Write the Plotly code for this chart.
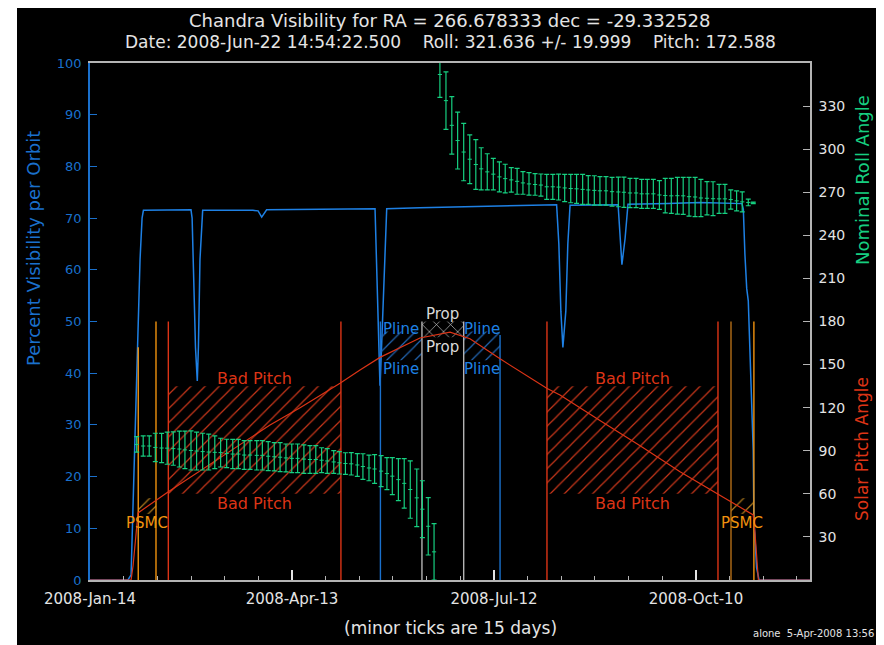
import plotly.graph_objects as go
import pandas as pd

# ---------------- data ----------------
START = "2008-01-14"
END_DAY = 320.8

# percent visibility per orbit (left axis); x = days since 2008-01-14
vis_day = [0, 16.9, 18.3, 19.2, 20.5, 21.4, 22.3, 23.2, 23.8, 45.0, 45.5, 46.1, 47.0, 47.8,
           48.3, 49.0, 49.8, 50.2, 72.6, 74.9, 76.5, 78.0, 78.7, 127.0, 128.5, 129.2, 129.9,
           130.7, 132.2, 147.0, 169.3, 207.9, 208.9, 209.8, 210.7, 212.0, 212.9, 213.9, 235.3,
           235.9, 237.0, 238.4, 239.7, 257.5, 271.7, 290.5, 291.1, 291.8, 292.6, 293.3, 294.1,
           294.8, 295.5, 295.8, 296.4, 297.0, 298.1, 320.8]
vis_pct = [0, 0, 1, 15, 35, 50, 62, 70, 71.5, 71.6, 70, 60, 45, 38.5,
           45, 62, 69, 71.5, 71.5, 71.4, 70.2, 71.3, 71.6, 71.8, 49.9, 37.6, 45,
           55, 71.8, 72.0, 72.2, 72.6, 65, 52, 45, 52, 65, 72.5, 72.6,
           68, 61, 66, 72.7, 72.8, 73.0, 72.8, 71.7, 63, 56.4, 54, 41.9,
           32.8, 25, 12, 8, 2.4, 0, 0]

# solar pitch angle (right axis, degrees)
pitch_day = [0, 18.3, 19.2, 20.3, 21.4, 34.9, 57.9, 80.2, 93.6, 111.4, 120.3, 129.2, 147.0,
             160.4, 169.3, 182.7, 203.5, 209.4, 227.2, 245.1, 262.9, 280.7, 295.5, 296.3,
             297.8, 320.8]
pitch_deg = [0, 0, 10, 30, 46.7, 61.5, 85, 108, 120, 137, 146.2, 155, 168.5,
             172.6, 168, 154, 133.5, 128.8, 111, 93.5, 75.4, 59.2, 45.3, 32.7,
             0, 0]

# nominal roll angle with +/- range (right axis, degrees)
roll1_day = [20.8, 23.7, 26.4, 29.1, 31.9, 34.4, 37.1, 39.8, 42.3, 45.0, 47.5, 50.2, 52.9,
             55.6, 58.2, 60.9, 63.6, 66.1, 68.7, 71.3, 74.3, 76.8, 79.4, 82.1, 84.7, 87.3,
             89.9, 92.5, 95.3, 98.0, 100.6, 103.2, 105.7, 108.6, 111.1, 113.8, 116.4, 119.1,
             121.6, 124.3, 126.8, 129.7, 132.3, 134.7, 137.4, 140.0, 142.7, 145.6, 148.1,
             150.7, 153.3]
roll1_deg = [94.4, 93.3, 93.3, 92.3, 91.9, 91.8, 91.5, 91.2, 90.6, 90.2, 89.8, 89.4, 89.1,
             88.9, 88.7, 88.1, 87.7, 87.7, 87.0, 87.0, 86.8, 86.8, 86.2, 85.8, 85.5, 85.0,
             84.7, 84.7, 84.2, 83.9, 83.9, 83.4, 82.9, 82.2, 81.6, 81.1, 80.9, 80.1, 79.0,
             78.0, 77.3, 75.8, 74.1, 72.3, 69.9, 67.3, 63.0, 57.2, 49.3, 37.4, 19.6]
roll1_err = [5.4, 7.0, 7.0, 9.9, 10.2, 11.2, 11.6, 12.5, 13.1, 13.6, 13.2, 12.8, 12.5,
             11.4, 10.0, 9.9, 10.2, 10.2, 10.0, 10.0, 10.2, 10.2, 10.1, 9.8, 10.1, 9.7,
             10.0, 10.0, 9.9, 9.6, 9.6, 8.7, 8.6, 7.9, 7.8, 7.5, 7.8, 7.9, 8.9, 8.9,
             10.0, 10.8, 11.1, 12.9, 14.6, 17.2, 20.0, 20.1, 19.8, 20.0, 19.6]

roll2_day = [155.9, 158.6, 161.2, 163.8, 166.5, 169.2, 171.9, 174.3, 177.0, 179.7, 182.4,
             185.0, 187.7, 190.3, 192.9, 195.6, 198.3, 200.9, 203.5, 206.2, 208.8, 211.5,
             214.2, 216.8, 219.5, 222.0, 224.7, 227.2, 229.9, 232.6, 235.4, 237.9, 240.6,
             243.3, 245.8, 248.3, 251.0, 253.7, 256.3, 259.0, 261.7, 264.3, 266.9, 269.6,
             272.2, 274.9, 277.6, 280.3, 282.9, 285.5, 288.1, 290.6, 293.3, 295.5]
roll2_deg = [352, 333.8, 316.6, 306.0, 298.0, 293.0, 289.3, 286.3, 284.2, 282.6, 280.7,
             279.5, 278.6, 277.6, 276.5, 275.8, 275.4, 275.0, 273.8, 273.8, 273.6, 273.0,
             272.6, 272.4, 272.0, 271.6, 271.3, 271.0, 271.0, 270.4, 270.2, 270.0, 269.5,
             269.5, 268.9, 268.9, 268.9, 268.1, 267.7, 267.5, 267.6, 267.5, 266.9, 266.7,
             266.0, 265.8, 265.5, 265.4, 265.4, 264.9, 264.0, 263.3, 262.9, 262.6]
roll2_err = [16, 20, 20, 19.8, 20, 17, 17.3, 14.7, 12.6, 11, 10.5,
             10, 8.5, 9, 7.9, 7.8, 7.5, 7.7, 8.7, 8.7, 9.0, 9.5,
             9.9, 10.1, 10.5, 10.0, 10.2, 9.9, 9.9, 10.0, 10.3, 10.5, 10.2,
             10.2, 10.1, 10.1, 10.1, 10.0, 12.0, 12.2, 12.8, 12.9, 13.5, 13.7,
             13.0, 11.6, 11.8, 10.1, 10.1, 6.7, 6.9, 6.9, 2.3, 0.5]

# constraint regions (days, degrees on pitch scale)
region_kind = ["Bad Pitch", "Bad Pitch", "PSMC", "PSMC", "Pline", "Pline", "Prop"]
region_start = [34.9, 203.6, 21.5, 285.6, 129.4, 166.5, 147.9]
region_end = [111.8, 279.8, 29.4, 295.8, 147.9, 182.7, 166.5]
region_low = [60, 60, 46, 46, 153, 153, 169]
region_high = [135, 135, 57, 57, 173, 173, 180]

# constraint boundary lines
event_day = [21.5, 29.4, 34.9, 111.8, 129.4, 147.9, 166.5, 182.7, 203.6, 279.8, 285.6, 295.8]
event_top = [162, 180, 180, 180, 180, 180, 180, 170.6, 180, 180, 180, 180]
event_kind = ["PSMC", "PSMC", "Bad Pitch", "Bad Pitch", "Pline", "Prop", "Prop", "Pline",
              "Bad Pitch", "Bad Pitch", "PSMC2", "PSMC"]

left_ticks = [0, 10, 20, 30, 40, 50, 60, 70, 80, 90, 100]
right_ticks = [30, 60, 90, 120, 150, 180, 210, 240, 270, 300, 330]

# ---------------- styles ----------------
FONT = "DejaVu Sans"
BLUE = "#1e80e4"
AXBLUE = "#1a70cc"
GREEN = "#16cf80"
RED = "#dc3416"
ORANGE = "#f0920e"
BROWN = "#b46e18"
GRAY = "#b4b4b4"
LIGHT = "#e4e4e4"

T0 = pd.Timestamp(START)
DAY_MS = 86400000

# page offset of the figure (browser body margin)
OFF = 8
# plot area in page pixels
PL, PR, PT, PB = 90, 810, 63, 580
FIG_W, FIG_H = 884 - OFF, 645 - OFF


def dates(days):
    return [T0 + pd.Timedelta(days=float(d)) for d in days]


style = {
    "Bad Pitch": dict(text=RED, hatch="#c8361a", shape="/", line=RED, up=5, down=7,
                      above=True, size=16),
    "PSMC": dict(text=ORANGE, hatch="#b07a1c", shape="/", line=ORANGE, up=5, down=6,
                 above=False, size=15),
    "PSMC2": dict(line=BROWN),
    "Pline": dict(text=BLUE, hatch="#2266b4", shape="/", line=AXBLUE, up=1.8, down=6,
                  above=True, size=15),
    "Prop": dict(text="#d8d8d8", hatch="#d8d8d8", shape="x", line=GRAY, up=5, down=7,
                 above=True, size=15),
}

fig = go.Figure()

# hatched regions
for k, a, b, lo, hi in zip(region_kind, region_start, region_end, region_low, region_high):
    s = style[k]
    mid = (a + b) / 2
    fig.add_trace(go.Bar(
        x=dates([mid]), y=[hi - lo], base=[lo], width=[(b - a) * DAY_MS], yaxis="y2",
        marker=dict(color=s["hatch"], line=dict(width=0),
                    pattern=dict(shape=s["shape"], size=10, solidity=0.12, fillmode="replace")),
        hoverinfo="skip", showlegend=False))

# boundary lines
for d, top, k in zip(event_day, event_top, event_kind):
    fig.add_trace(go.Scatter(x=dates([d, d]), y=[0, top], yaxis="y2", mode="lines",
                             line=dict(color=style[k]["line"], width=1.4),
                             hoverinfo="skip", showlegend=False))

# pitch
fig.add_trace(go.Scatter(x=dates(pitch_day), y=pitch_deg, yaxis="y2", mode="lines",
                         line=dict(color=RED, width=1.2), showlegend=False))

# visibility
fig.add_trace(go.Scatter(x=dates(vis_day), y=vis_pct, mode="lines",
                         line=dict(color=BLUE, width=1.5), showlegend=False))

# roll error bars
for dd, cc, ee in [(roll1_day, roll1_deg, roll1_err), (roll2_day, roll2_deg, roll2_err)]:
    fig.add_trace(go.Scatter(
        x=dates(dd), y=cc, yaxis="y2", mode="markers",
        marker=dict(symbol="line-ew", size=3, color=GREEN, line=dict(color=GREEN, width=1)),
        error_y=dict(type="data", array=ee, color=GREEN, thickness=1.2, width=2.5),
        showlegend=False))

annotations = []
# region labels
for k, a, b, lo, hi in zip(region_kind, region_start, region_end, region_low, region_high):
    s = style[k]
    mid = dates([(a + b) / 2])[0]
    f = dict(family=FONT, size=s["size"], color=s["text"])
    if s["above"]:
        annotations.append(dict(x=mid, y=hi + s["up"], xref="x", yref="y2", text=k,
                                xanchor="center", yanchor="middle", showarrow=False, font=f))
    annotations.append(dict(x=mid, y=lo - s["down"], xref="x", yref="y2", text=k,
                            xanchor="center", yanchor="middle", showarrow=False, font=f))


def px_x(px):
    return (px - PL) / (PR - PL)


def px_y(py):
    return (PB - py) / (PB - PT)


def label(px, py, text, size, color, angle=0, xanchor="center"):
    return dict(x=px_x(px), y=px_y(py), xref="paper", yref="paper", showarrow=False,
                text=text, textangle=angle, xanchor=xanchor, yanchor="middle",
                font=dict(family=FONT, size=size, color=color))


annotations += [
    label(450, 20, "Chandra Visibility for RA = 266.678333 dec = -29.332528", 18, LIGHT),
    label(450, 42, "Date: 2008-Jun-22 14:54:22.500    Roll: 321.636 +/- 19.999    Pitch: 172.588",
          17, LIGHT),
    label(450, 628, "(minor ticks are 15 days)", 17, LIGHT),
    label(876, 634, "alone  5-Apr-2008 13:56", 10, LIGHT, xanchor="right"),
    label(33, 249, "Percent Visibility per Orbit", 18, AXBLUE, angle=-90),
    label(862, 180, "Nominal Roll Angle", 18, GREEN, angle=-90),
    label(862, 449, "Solar Pitch Angle", 17, RED, angle=-90),
]

shapes = [
    dict(type="rect", xref="paper", yref="paper", x0=px_x(0), x1=px_x(17), y0=px_y(660), y1=px_y(0),
         fillcolor="white", line=dict(width=0), layer="below"),
]

fig.update_layout(
    width=FIG_W, height=FIG_H,
    margin=dict(l=PL - OFF, r=FIG_W - (PR - OFF), t=PT - OFF, b=FIG_H - (PB - OFF)),
    paper_bgcolor="black", plot_bgcolor="black",
    barmode="overlay", showlegend=False,
    annotations=annotations, shapes=shapes,
    xaxis=dict(type="date", range=[T0, T0 + pd.Timedelta(days=END_DAY)],
               showline=True, linecolor=GRAY, linewidth=1.5, mirror=True,
               showgrid=False, zeroline=False,
               ticks="inside", ticklen=10, tickwidth=1.5, tickcolor=LIGHT,
               tick0=T0, dtick=90 * DAY_MS, tickformat="%Y-%b-%d",
               tickfont=dict(family=FONT, size=15, color=LIGHT), ticklabelstandoff=4,
               minor=dict(ticks="inside", ticklen=4, tickwidth=1.2, tickcolor=GRAY,
                          tick0=T0, dtick=15 * DAY_MS, showgrid=False)),
    yaxis=dict(range=[0, 100], tickmode="array", tickvals=left_ticks,
               showline=True, linecolor=AXBLUE, linewidth=1.5, showgrid=False, zeroline=False,
               ticks="inside", ticklen=7, tickcolor=AXBLUE,
               tickfont=dict(family=FONT, size=13, color=AXBLUE), ticklabelstandoff=4),
    yaxis2=dict(range=[0, 360], overlaying="y", side="right", tickmode="array",
                tickvals=right_ticks, showline=True, linecolor=GRAY, linewidth=1.5,
                showgrid=False, zeroline=False, ticks="inside", ticklen=7, tickcolor=GRAY,
                tickfont=dict(family=FONT, size=14, color=LIGHT), ticklabelstandoff=4),
)

fig.write_html("out.html")
